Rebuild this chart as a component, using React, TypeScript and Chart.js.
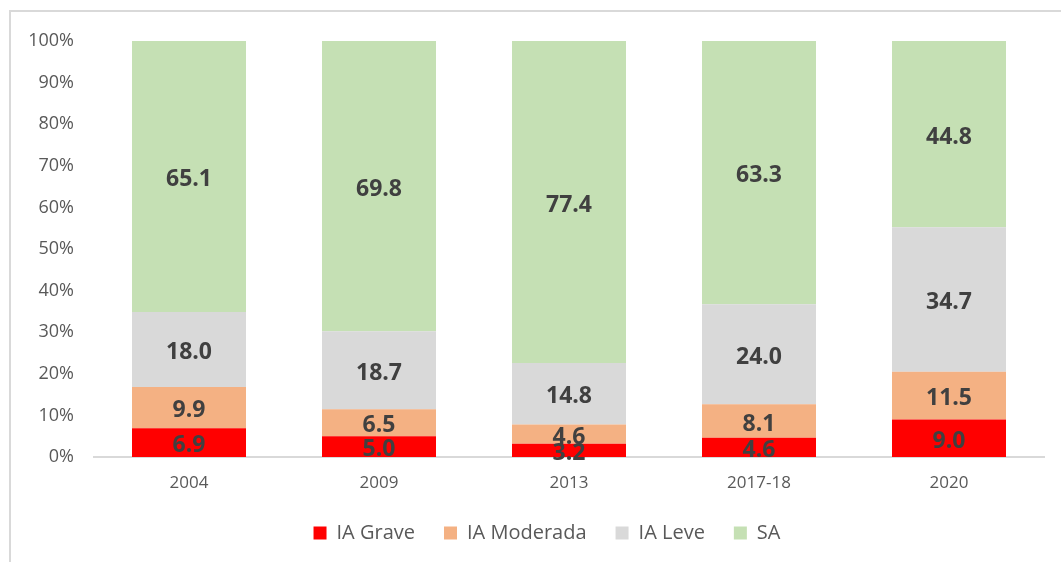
import React, { useEffect, useRef } from "react";
import { Chart, registerables } from "chart.js";

Chart.register(...registerables);

const categories = ["2004", "2009", "2013", "2017-18", "2020"];
const seriesNames = ["IA Grave", "IA Moderada", "IA Leve", "SA"];
const iaGrave = [6.9, 5.0, 3.2, 4.6, 9.0];
const iaModerada = [9.9, 6.5, 4.6, 8.1, 11.5];
const iaLeve = [18.0, 18.7, 14.8, 24.0, 34.7];
const sa = [65.1, 69.8, 77.4, 63.3, 44.8];
const colors = ["#ff0000", "#f4b183", "#d9d9d9", "#c5e0b4"];
const yTicks = [0, 10, 20, 30, 40, 50, 60, 70, 80, 90, 100];

const FONT = "'Open Sans', 'Noto Sans', sans-serif";

const labelPlugin = {
  id: "segLabels",
  afterLayout(chart: any) {
    if (chart.legend) {
      chart.legend.left += 25;
      chart.legend.right += 25;
    }
  },
  afterDatasetsDraw(chart: any) {
    const ctx = chart.ctx;
    ctx.save();
    ctx.font = `bold 23px ${FONT}`;
    ctx.fillStyle = "#404040";
    ctx.textAlign = "center";
    ctx.textBaseline = "middle";
    chart.data.datasets.forEach((ds: any, di: number) => {
      const meta = chart.getDatasetMeta(di);
      meta.data.forEach((el: any, i: number) => {
        const raw = ds.raw[i];
        const y = (el.y + el.base) / 2;
        ctx.fillText(raw.toFixed(1), el.x, y + 3);
      });
    });
    ctx.restore();
  },
};

export default function App() {
  const ref = useRef<HTMLCanvasElement | null>(null);
  useEffect(() => {
    const all = [iaGrave, iaModerada, iaLeve, sa];
    const totals = categories.map((_, i) => all.reduce((s, a) => s + a[i], 0));
    const datasets = all.map((arr, k) => ({
      label: seriesNames[k],
      data: arr.map((v, i) => (v / totals[i]) * 100),
      raw: arr,
      backgroundColor: colors[k],
      borderWidth: 0,
      barPercentage: 0.6,
      categoryPercentage: 1,
    }));
    const chart = new Chart(ref.current as HTMLCanvasElement, {
      type: "bar",
      data: { labels: categories, datasets: datasets as any },
      options: {
        animation: false,
        responsive: true,
        maintainAspectRatio: false,
        layout: { padding: { left: 0, right: 17, top: 41, bottom: 9 } },
        plugins: {
          tooltip: { enabled: false },
          legend: {
            position: "bottom",
            labels: {
              boxWidth: 13,
              boxHeight: 13,
              padding: 29,
              color: "#595959",
              font: { family: FONT, size: 20 },
            },
          },
        },
        scales: {
          x: {
            stacked: true,
            grid: { display: false, drawTicks: false },
            border: { display: true, color: "#d9d9d9", width: 2 },
            ticks: { color: "#595959", font: { family: FONT, size: 17 }, padding: 16 },
            afterFit: (s: any) => {
              s.height = 37;
            },
          },
          y: {
            stacked: true,
            min: 0,
            max: 100,
            afterBuildTicks: (s: any) => {
              s.ticks = yTicks.map((v) => ({ value: v }));
            },
            grid: { display: false, drawTicks: false },
            border: { display: false },
            ticks: {
              color: "#595959",
              font: { family: FONT, size: 18 },
              padding: 20,
              callback: (v: any) => v + "%",
            },
            afterFit: (s: any) => {
              s.width = 94;
            },
          },
        },
      },
      plugins: [labelPlugin],
    });
    return () => chart.destroy();
  }, []);
  return (
    <div style={{ position: "absolute", left: 0, top: 0, width: 1061, height: 562, background: "#fff", overflow: "hidden" }}>
      <div
        style={{
          position: "absolute",
          left: 9,
          top: 10,
          width: 1100,
          height: 600,
          border: "2px solid #d9d9d9",
          boxSizing: "border-box",
        }}
      />
      <canvas ref={ref} style={{ position: "absolute", left: 0, top: 0, width: 1061, height: 562 }} />
    </div>
  );
}
